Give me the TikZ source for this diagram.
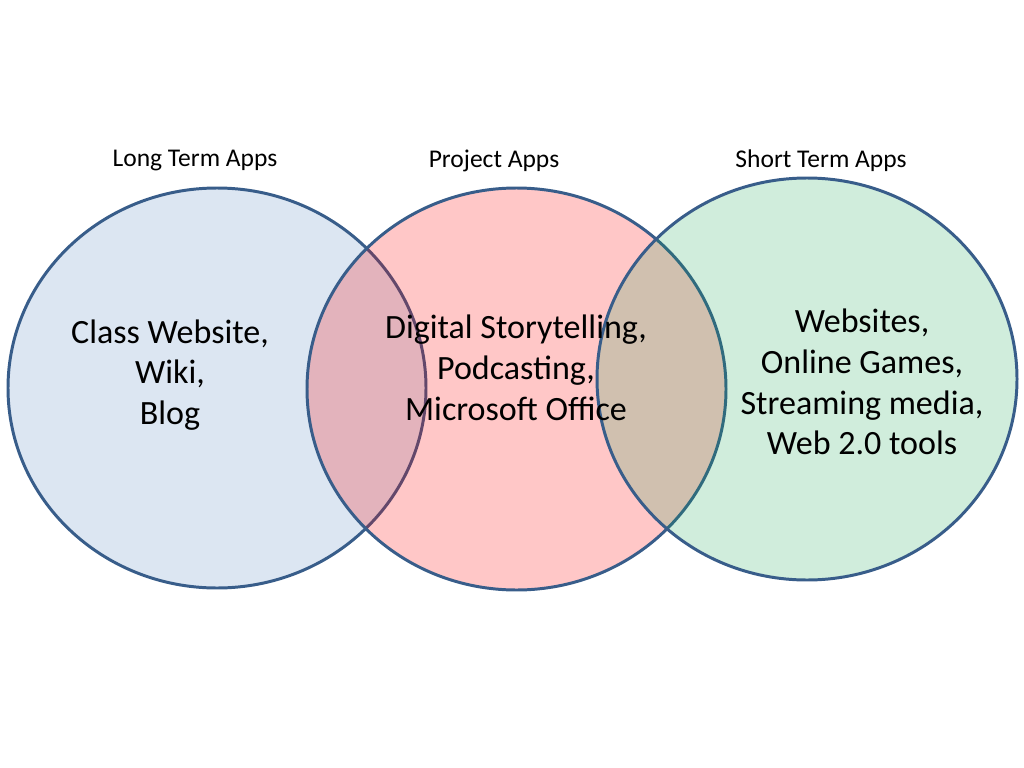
\documentclass[tikz,border=0pt]{standalone}
\usepackage{fontspec}
\setmainfont{Carlito}
\usepackage{tikz}

\definecolor{rim}{RGB}{56,93,138}
\definecolor{lt}{RGB}{220,230,242}
\definecolor{pj}{RGB}{255,0,0}
\definecolor{st}{RGB}{20,165,80}

\begin{document}
\begin{tikzpicture}[x=0.0248cm,y=-0.0248cm,
			ring/.style={draw=rim,line width=2.1pt},
			hd/.style={font=\fontsize{18}{21.6}\selectfont,inner sep=0pt},
			bd/.style={font=\fontsize{24}{28.8}\selectfont,align=center,inner sep=0pt}]
			\useasboundingbox[fill=white] (0,0) rectangle (1024,768);
			\draw[ring,fill=lt] (217,388) ellipse [x radius=209,y radius=200];
			\draw[ring,fill=pj,fill opacity=0.22] (516.5,389) ellipse [x radius=209.5,y radius=201];
			\draw[ring,fill=st,fill opacity=0.2] (807,379) ellipse [x radius=210,y radius=201];
			\node[hd] (long) at (195,161) {Long Term Apps};
			\node[hd] (proj) at (494,161) {Project Apps};
			\node[hd] (short) at (821,161) {Short Term Apps};
			\node[bd] (ltxt) at (170,375) {Class Website,\\Wiki,\\Blog};
			\node[bd] (ptxt) at (516,368) {Digital Storytelling,\\Podcasting,\\Microsoft Office};
			\node[bd] (stxt) at (862,382) {Websites,\\Online Games,\\Streaming media,\\Web 2.0 tools};
		\end{tikzpicture}
\end{document}
